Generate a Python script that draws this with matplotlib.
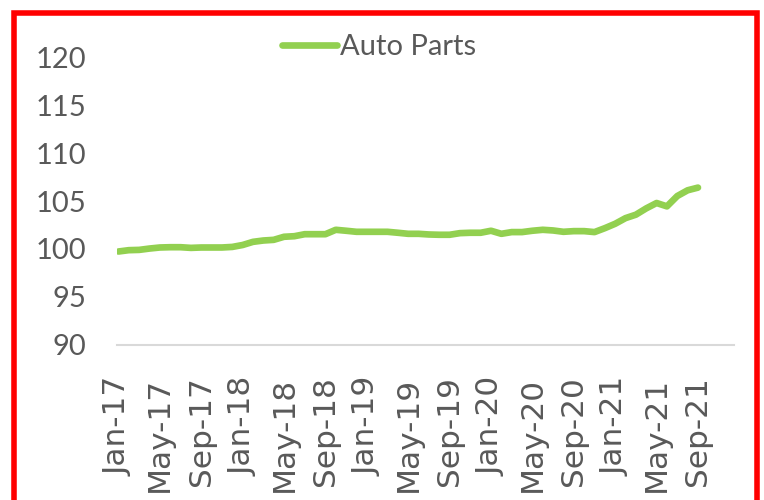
import pandas as pd
import numpy as np
import matplotlib
matplotlib.use("Agg")
import matplotlib.pyplot as plt
from matplotlib.patches import Rectangle

months = pd.date_range("2017-01-01", "2021-09-01", freq="MS")
labels = [d.strftime("%b-%y") for d in months]

auto_parts = [99.72, 99.86, 99.89, 100.03, 100.14, 100.17, 100.17, 100.10, 100.14, 100.14,
              100.14, 100.20, 100.40, 100.73, 100.87, 100.94, 101.26, 101.32, 101.53, 101.53,
              101.53, 101.99, 101.89, 101.78, 101.78, 101.78, 101.78, 101.68, 101.57, 101.57,
              101.50, 101.47, 101.47, 101.64, 101.68, 101.68, 101.89, 101.57, 101.75, 101.75,
              101.89, 101.99, 101.92, 101.78, 101.85, 101.85, 101.75, 102.16, 102.62, 103.21,
              103.57, 104.23, 104.79, 104.44, 105.52, 106.12, 106.40]

green = "#92d050"
grey = "#595959"

fig = plt.figure(figsize=(7.64, 5.0), dpi=100)
ax = fig.add_axes([0.153, 0.311, 0.808, 0.574])

x = np.arange(len(auto_parts))
ax.plot(x, auto_parts, color=green, lw=4.8, solid_capstyle="round", solid_joinstyle="round",
        label="Auto Parts")

ax.set_ylim(90, 120)
ax.set_yticks(range(90, 121, 5))
ax.set_xlim(-0.15, 59.5)
ax.set_xticks(x[::4])
ax.set_xticklabels(labels[::4], rotation=90, fontsize=22.5, color=grey, family="DejaVu Sans")

for lab in ax.get_yticklabels():
    lab.set_family("Lato")
    lab.set_fontsize(21)
    lab.set_color(grey)

ax.tick_params(axis="x", length=0, pad=23)
ax.tick_params(axis="y", length=0, pad=22)
for s in ["top", "right", "left"]:
    ax.spines[s].set_visible(False)
ax.spines["bottom"].set_color("#d9d9d9")
ax.spines["bottom"].set_linewidth(1.5)

leg = fig.legend(*ax.get_legend_handles_labels(), loc="center left",
                 bbox_to_anchor=(282 / 764, 1 - 47 / 500), frameon=False, borderpad=0,
                 borderaxespad=0, handlelength=1.9, handletextpad=0.1,
                 prop={"family": "Lato", "size": 21})
for t in leg.get_texts():
    t.set_color(grey)

fig.patches.append(Rectangle((14 / 764, -0.1), (757 - 14) / 764, 1.1 - 13 / 500,
                             transform=fig.transFigure, fill=False, edgecolor="red",
                             lw=4, clip_on=False))

fig.savefig("out.png", dpi=100)
